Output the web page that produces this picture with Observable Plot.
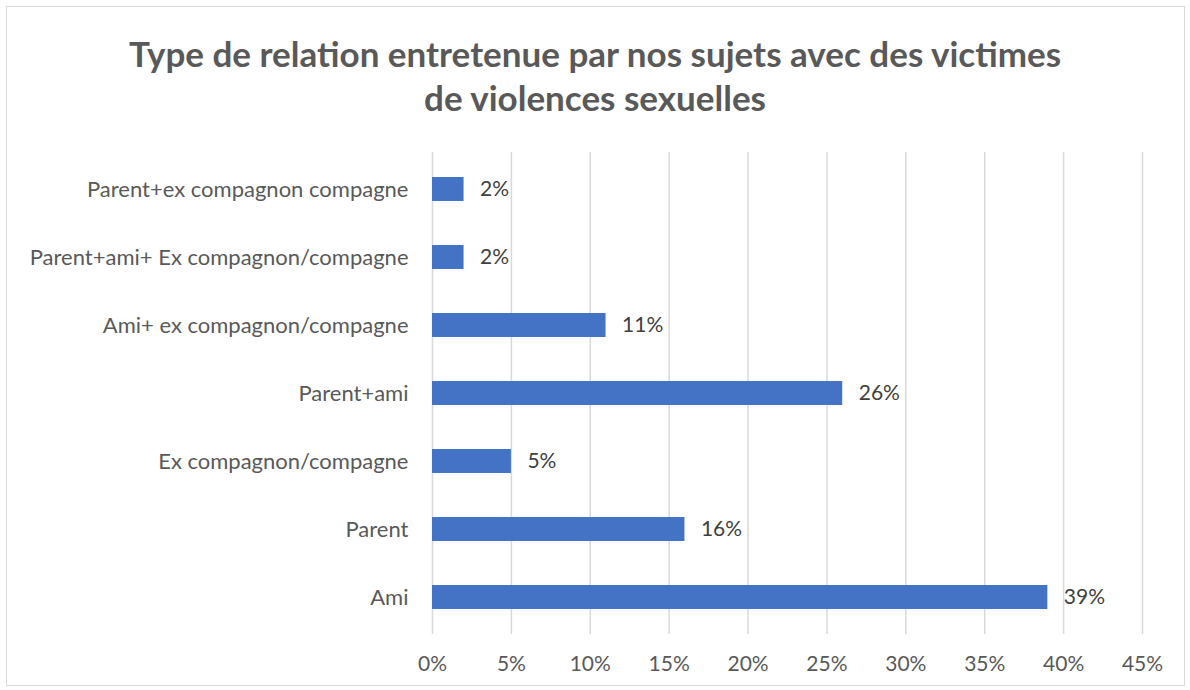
<!DOCTYPE html>
<html>
<head>
<meta charset="utf-8">
<script src="https://cdn.jsdelivr.net/npm/d3@7"></script>
<script src="https://cdn.jsdelivr.net/npm/@observablehq/plot@0.6"></script>
<style>
  html, body { margin: 0; padding: 0; background: #fff; }
  #chart { position: relative; width: 1190px; height: 690px; font-family: Lato, "Open Sans", sans-serif; }
  #frame { position: absolute; left: 6px; top: 6px; width: 1179px; height: 680px; border: 1.5px solid #d9d9d9; box-sizing: border-box; }
  #title { position: absolute; left: 0; top: 31px; width: 1190px; text-align: center; font-weight: bold; font-size: 35px; line-height: 44px; color: #595959; }
  #plot { position: absolute; left: 0; top: 0; }
</style>
</head>
<body>
<div id="chart">
  <div id="frame"></div>
  <div id="title">Type de relation entretenue par nos sujets avec des victimes<br>de violences sexuelles</div>
  <div id="plot"></div>
</div>
<script>
const categories = [
  "Parent+ex compagnon compagne",
  "Parent+ami+ Ex compagnon/compagne",
  "Ami+ ex compagnon/compagne",
  "Parent+ami",
  "Ex compagnon/compagne",
  "Parent",
  "Ami"
];
const values = [2, 2, 11, 26, 5, 16, 39];
const xTicks = [0, 5, 10, 15, 20, 25, 30, 35, 40, 45];

const data = categories.map((c, i) => ({category: c, value: values[i]}));

const chart = Plot.plot({
  width: 1190,
  height: 690,
  marginTop: 152,
  marginBottom: 56,
  marginLeft: 432,
  marginRight: 48,
  style: {fontFamily: "Lato, 'Open Sans', sans-serif", fontSize: "21px", background: "transparent", color: "#595959"},
  x: {domain: [0, 45], ticks: xTicks, tickFormat: d => d + "%", label: null},
  y: {domain: categories, paddingInner: 0.64, paddingOuter: 0.32, label: null},
  marks: [
    Plot.gridX(xTicks, {stroke: "#d9d9d9", strokeOpacity: 1, strokeWidth: 1.5}),
    Plot.axisX({ticks: xTicks, tickFormat: d => d + "%", tickSize: 0, tickPadding: 22, fontSize: 21, fill: "#595959", label: null}),
    Plot.axisY({tickSize: 0, tickPadding: 24, fontSize: 22, fill: "#595959", label: null}),
    Plot.barX(data, {x: "value", y: "category", fill: "#4472C4"}),
    Plot.text(data, {x: "value", y: "category", text: d => d.value + "%", textAnchor: "start", dx: 16, fontSize: 21, fill: "#404040"})
  ]
});
document.getElementById("plot").appendChild(chart);
</script>
</body>
</html>
